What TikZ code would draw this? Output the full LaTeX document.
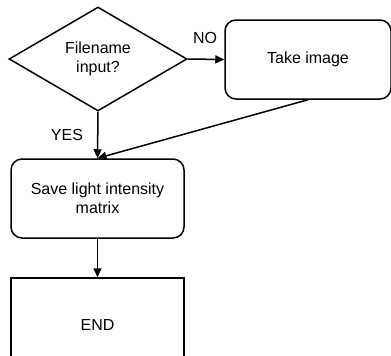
\documentclass[tikz,border=0pt]{standalone}
\usepackage{fontspec}
\setmainfont{Liberation Sans}
\usetikzlibrary{shapes.geometric,arrows.meta}
\begin{document}
\begin{tikzpicture}[x=1pt,y=-1pt,
  every node/.style={font=\fontsize{16}{19.5}\selectfont, align=center, inner sep=0pt},
  line/.style={line width=1.5pt, draw=black},
  flow/.style={line, -{Triangle[length=9pt,width=8pt]}},
  decision/.style={diamond, line, minimum width=178pt, minimum height=104pt},
  process/.style={rectangle, rounded corners=11pt, line},
  terminal/.style={rectangle, line},
  tag/.style={font=\fontsize{16}{19.5}\selectfont}]
  \useasboundingbox (0,0) rectangle (391,356);
  \clip (0,0) rectangle (391,356);

  \node[decision] (ask) at (98,59) {Filename\\input?};
  \node[process, minimum width=166pt, minimum height=79pt] (take) at (308,59.5) {Take image};
  \node[process, minimum width=173pt, minimum height=79pt] (save) at (97.5,198.5) {Save light intensity\\matrix};
  \node[terminal, minimum width=173pt, minimum height=94pt] (stop) at (97.5,325) {END};

  \draw[flow] (ask.east) -- (take.west);
  \draw[flow] (ask.south) -- (save.north);
  \draw[flow] (take.south) -- (save.north);
  \draw[flow] (save.south) -- (stop.north);

  \node[tag] (no) at (205,38) {NO};
  \node[tag] (yes) at (67,135) {YES};
\end{tikzpicture}
\end{document}
